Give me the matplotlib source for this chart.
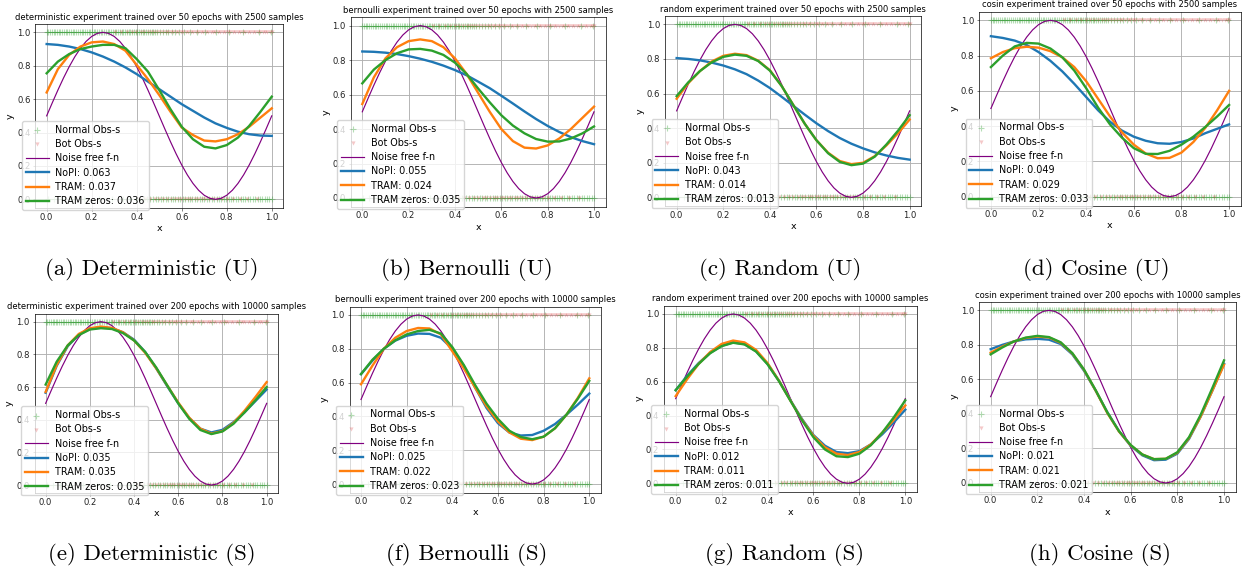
import matplotlib
matplotlib.use("Agg")
import matplotlib.pyplot as plt
import matplotlib.transforms as mtransforms

# ---------------- data ----------------
x_grid = [0.00, 0.05, 0.10, 0.15, 0.20, 0.25, 0.30, 0.35, 0.40, 0.45, 0.50,
          0.55, 0.60, 0.65, 0.70, 0.75, 0.80, 0.85, 0.90, 0.95, 1.00]

x_fine = [0.000, 0.025, 0.050, 0.075, 0.100, 0.125, 0.150, 0.175, 0.200, 0.225, 0.250,
          0.275, 0.300, 0.325, 0.350, 0.375, 0.400, 0.425, 0.450, 0.475, 0.500,
          0.525, 0.550, 0.575, 0.600, 0.625, 0.650, 0.675, 0.700, 0.725, 0.750,
          0.775, 0.800, 0.825, 0.850, 0.875, 0.900, 0.925, 0.950, 0.975, 1.000]
noise_free = [0.5, 0.5782, 0.6545, 0.7270, 0.7939, 0.8536, 0.9045, 0.9455, 0.9755, 0.9938, 1.0,
              0.9938, 0.9755, 0.9455, 0.9045, 0.8536, 0.7939, 0.7270, 0.6545, 0.5782, 0.5,
              0.4218, 0.3455, 0.2730, 0.2061, 0.1464, 0.0955, 0.0545, 0.0245, 0.0062, 0.0,
              0.0062, 0.0245, 0.0545, 0.0955, 0.1464, 0.2061, 0.2730, 0.3455, 0.4218, 0.5]

titles = [
    "deterministic experiment trained over 50 epochs with 2500 samples",
    "bernoulli experiment trained over 50 epochs with 2500 samples",
    "random experiment trained over 50 epochs with 2500 samples",
    "cosin experiment trained over 50 epochs with 2500 samples",
    "deterministic experiment trained over 200 epochs with 10000 samples",
    "bernoulli experiment trained over 200 epochs with 10000 samples",
    "random experiment trained over 200 epochs with 10000 samples",
    "cosin experiment trained over 200 epochs with 10000 samples",
]

captions = ["(a) Deterministic (U)", "(b) Bernoulli (U)", "(c) Random (U)", "(d) Cosine (U)",
            "(e) Deterministic (S)", "(f) Bernoulli (S)", "(g) Random (S)", "(h) Cosine (S)"]

nopi_scores = [0.063, 0.055, 0.043, 0.049, 0.035, 0.025, 0.012, 0.021]
tram_scores = [0.037, 0.024, 0.014, 0.029, 0.035, 0.022, 0.011, 0.021]
tramz_scores = [0.036, 0.035, 0.013, 0.033, 0.035, 0.023, 0.011, 0.021]

nopi_a = [0.93, 0.925, 0.915, 0.90, 0.88, 0.855, 0.825, 0.79, 0.75, 0.705, 0.66,
          0.615, 0.57, 0.53, 0.49, 0.455, 0.428, 0.405, 0.39, 0.382, 0.38]
tram_a = [0.64, 0.78, 0.865, 0.915, 0.94, 0.945, 0.93, 0.89, 0.805, 0.72, 0.625,
          0.525, 0.43, 0.385, 0.352, 0.347, 0.36, 0.39, 0.435, 0.49, 0.545]
tramz_a = [0.755, 0.825, 0.87, 0.90, 0.915, 0.925, 0.925, 0.905, 0.84, 0.765, 0.655,
           0.54, 0.435, 0.36, 0.315, 0.305, 0.325, 0.37, 0.44, 0.525, 0.615]

nopi_b = [0.85, 0.848, 0.843, 0.835, 0.823, 0.808, 0.79, 0.768, 0.742, 0.712, 0.675,
          0.637, 0.593, 0.548, 0.502, 0.458, 0.418, 0.383, 0.353, 0.33, 0.312]
tram_b = [0.545, 0.70, 0.81, 0.875, 0.91, 0.92, 0.91, 0.875, 0.81, 0.72, 0.61,
          0.50, 0.40, 0.33, 0.292, 0.287, 0.305, 0.345, 0.40, 0.465, 0.53]
tramz_b = [0.665, 0.745, 0.80, 0.84, 0.862, 0.865, 0.855, 0.83, 0.785, 0.72, 0.635,
           0.555, 0.48, 0.42, 0.375, 0.342, 0.327, 0.328, 0.345, 0.375, 0.415]

nopi_c = [0.805, 0.80, 0.792, 0.779, 0.762, 0.74, 0.712, 0.675, 0.632, 0.582, 0.53,
          0.478, 0.428, 0.383, 0.343, 0.31, 0.283, 0.26, 0.242, 0.228, 0.218]
tram_c = [0.57, 0.66, 0.73, 0.785, 0.818, 0.83, 0.822, 0.79, 0.735, 0.645, 0.535,
          0.425, 0.33, 0.258, 0.21, 0.192, 0.20, 0.238, 0.30, 0.37, 0.45]
tramz_c = [0.585, 0.665, 0.73, 0.78, 0.812, 0.825, 0.818, 0.788, 0.733, 0.645, 0.535,
           0.425, 0.33, 0.255, 0.205, 0.186, 0.195, 0.235, 0.305, 0.385, 0.475]

nopi_d = [0.91, 0.90, 0.885, 0.86, 0.82, 0.77, 0.71, 0.64, 0.565, 0.49, 0.425,
          0.375, 0.34, 0.317, 0.303, 0.30, 0.31, 0.33, 0.36, 0.385, 0.41]
tram_d = [0.785, 0.82, 0.842, 0.85, 0.845, 0.825, 0.79, 0.735, 0.655, 0.555, 0.455,
          0.365, 0.295, 0.245, 0.218, 0.22, 0.25, 0.31, 0.39, 0.49, 0.60]
tramz_d = [0.735, 0.80, 0.852, 0.872, 0.868, 0.84, 0.79, 0.715, 0.615, 0.505, 0.41,
           0.335, 0.275, 0.243, 0.242, 0.26, 0.295, 0.34, 0.395, 0.455, 0.52]

nopi_e = [0.565, 0.73, 0.85, 0.92, 0.955, 0.965, 0.96, 0.935, 0.89, 0.815, 0.715,
          0.605, 0.50, 0.41, 0.345, 0.322, 0.338, 0.385, 0.445, 0.515, 0.585]
tram_e = [0.57, 0.735, 0.855, 0.925, 0.96, 0.97, 0.962, 0.935, 0.885, 0.81, 0.715,
          0.61, 0.505, 0.412, 0.345, 0.315, 0.33, 0.38, 0.455, 0.54, 0.63]
tramz_e = [0.615, 0.755, 0.855, 0.918, 0.952, 0.96, 0.955, 0.93, 0.885, 0.815, 0.72,
           0.61, 0.50, 0.405, 0.337, 0.312, 0.328, 0.375, 0.445, 0.52, 0.60]

nopi_f = [0.65, 0.73, 0.80, 0.848, 0.877, 0.89, 0.888, 0.865, 0.80, 0.70, 0.57,
          0.45, 0.36, 0.305, 0.287, 0.29, 0.315, 0.355, 0.41, 0.47, 0.535]
tram_f = [0.59, 0.70, 0.80, 0.865, 0.905, 0.923, 0.92, 0.885, 0.785, 0.685, 0.57,
          0.46, 0.37, 0.305, 0.268, 0.26, 0.28, 0.33, 0.41, 0.51, 0.625]
tramz_f = [0.65, 0.735, 0.80, 0.85, 0.885, 0.905, 0.912, 0.89, 0.81, 0.705, 0.585,
           0.475, 0.385, 0.315, 0.278, 0.265, 0.28, 0.33, 0.41, 0.505, 0.61]

nopi_g = [0.55, 0.635, 0.71, 0.77, 0.812, 0.832, 0.822, 0.78, 0.705, 0.605, 0.49,
          0.38, 0.285, 0.222, 0.185, 0.178, 0.19, 0.23, 0.29, 0.36, 0.435]
tram_g = [0.515, 0.615, 0.705, 0.775, 0.823, 0.843, 0.832, 0.788, 0.71, 0.605, 0.488,
          0.375, 0.28, 0.213, 0.175, 0.167, 0.185, 0.23, 0.30, 0.375, 0.46]
tramz_g = [0.55, 0.63, 0.705, 0.768, 0.81, 0.83, 0.82, 0.778, 0.703, 0.603, 0.487,
           0.372, 0.272, 0.20, 0.16, 0.155, 0.175, 0.225, 0.30, 0.39, 0.49]

nopi_h = [0.775, 0.80, 0.82, 0.832, 0.835, 0.83, 0.805, 0.745, 0.65, 0.535, 0.41,
          0.30, 0.215, 0.16, 0.132, 0.135, 0.17, 0.255, 0.385, 0.535, 0.69]
tram_h = [0.755, 0.79, 0.82, 0.84, 0.848, 0.843, 0.812, 0.75, 0.655, 0.535, 0.405,
          0.298, 0.218, 0.165, 0.138, 0.14, 0.175, 0.26, 0.385, 0.535, 0.685]
tramz_h = [0.745, 0.785, 0.82, 0.842, 0.852, 0.845, 0.815, 0.752, 0.657, 0.537, 0.408,
           0.30, 0.22, 0.165, 0.138, 0.14, 0.178, 0.265, 0.395, 0.55, 0.71]

nopi_all = [nopi_a, nopi_b, nopi_c, nopi_d, nopi_e, nopi_f, nopi_g, nopi_h]
tram_all = [tram_a, tram_b, tram_c, tram_d, tram_e, tram_f, tram_g, tram_h]
tramz_all = [tramz_a, tramz_b, tramz_c, tramz_d, tramz_e, tramz_f, tramz_g, tramz_h]

# observation positions (label 1 / label 0)
normal_hi_x = [0.000, 0.008, 0.015, 0.022, 0.031, 0.038, 0.046, 0.053, 0.061, 0.069, 0.077,
               0.084, 0.092, 0.101, 0.108, 0.116, 0.123, 0.131, 0.139, 0.147, 0.155, 0.162,
               0.170, 0.178, 0.186, 0.193, 0.201, 0.209, 0.217, 0.224, 0.232, 0.240, 0.248,
               0.256, 0.263, 0.271, 0.279, 0.287, 0.294, 0.302, 0.310, 0.318, 0.326, 0.333,
               0.341, 0.349, 0.357, 0.364, 0.372, 0.380, 0.388, 0.396, 0.403, 0.411, 0.419,
               0.427, 0.434, 0.442, 0.450, 0.458, 0.466, 0.474, 0.483, 0.492, 0.503, 0.515,
               0.528, 0.541, 0.556, 0.572, 0.590, 0.611, 0.636, 0.667, 0.705, 0.752, 0.808,
               0.873, 0.944, 0.995]
bot_hi_x = [0.305, 0.331, 0.356, 0.378, 0.398, 0.417, 0.434, 0.450, 0.465, 0.479, 0.492,
            0.505, 0.517, 0.529, 0.541, 0.552, 0.563, 0.574, 0.585, 0.596, 0.607, 0.618,
            0.629, 0.640, 0.651, 0.662, 0.673, 0.684, 0.695, 0.706, 0.717, 0.728, 0.739,
            0.750, 0.761, 0.772, 0.783, 0.794, 0.805, 0.816, 0.827, 0.838, 0.849, 0.860,
            0.871, 0.882, 0.893, 0.904, 0.915, 0.926, 0.937, 0.948, 0.959, 0.970, 0.981,
            0.992, 1.000]
normal_lo_x = [0.004, 0.031, 0.067, 0.112, 0.168, 0.231, 0.292, 0.338, 0.372, 0.396, 0.415,
               0.431, 0.446, 0.459, 0.472, 0.484, 0.496, 0.507, 0.518, 0.529, 0.540, 0.551,
               0.562, 0.572, 0.583, 0.594, 0.605, 0.615, 0.626, 0.637, 0.647, 0.658, 0.669,
               0.680, 0.690, 0.701, 0.712, 0.722, 0.733, 0.744, 0.755, 0.765, 0.776, 0.787,
               0.797, 0.808, 0.819, 0.830, 0.840, 0.851, 0.862, 0.872, 0.883, 0.894, 0.905,
               0.915, 0.926, 0.937, 0.947, 0.958, 0.969, 0.980, 0.990, 1.000]
bot_lo_x = [0.412, 0.438, 0.461, 0.482, 0.501, 0.519, 0.536, 0.552, 0.568, 0.583, 0.598,
            0.613, 0.628, 0.643, 0.658, 0.673, 0.689, 0.705, 0.722, 0.740, 0.759, 0.780,
            0.803, 0.829, 0.858, 0.892, 0.935]

# ---------------- layout (pixels) ----------------
W, H = 1250, 571
axes_px = [  # left, right, top, bottom
    (35.4, 283.0, 24.0, 207.7),
    (350.7, 605.6, 17.0, 206.6),
    (665.0, 921.3, 15.7, 206.0),
    (979.0, 1241.0, 11.5, 205.5),
    (34.6, 277.7, 313.5, 493.2),
    (349.6, 600.7, 306.5, 492.5),
    (664.2, 916.8, 305.5, 491.8),
    (979.0, 1235.7, 301.7, 491.6),
]
caption_pos = [(152, 270), (467, 270), (780, 270), (1096, 270),
               (152, 555), (467, 555), (785, 555), (1100, 555)]

fig = plt.figure(figsize=(W / 100, H / 100), dpi=100)
fig.patch.set_facecolor("white")

for i in range(8):
    l, r, t, b = axes_px[i]
    ax = fig.add_axes([l / W, 1 - b / H, (r - l) / W, (b - t) / H])
    ax.scatter(normal_hi_x + normal_lo_x, [1.0] * len(normal_hi_x) + [0.0] * len(normal_lo_x),
               marker="+", s=14, color="#2ca02c", alpha=0.35, linewidths=0.8,
               label="Normal Obs-s", zorder=2)
    ax.scatter(bot_hi_x + bot_lo_x, [1.0] * len(bot_hi_x) + [0.0] * len(bot_lo_x),
               marker="v", s=9, color="#d62728", alpha=0.25, linewidths=0,
               label="Bot Obs-s", zorder=2)
    ax.plot(x_fine, noise_free, color="purple", lw=0.85, label="Noise free f-n", zorder=3)
    ax.plot(x_grid, nopi_all[i], color="#1f77b4", lw=1.7,
            label=f"NoPI: {nopi_scores[i]:.3f}", zorder=3)
    ax.plot(x_grid, tram_all[i], color="#ff7f0e", lw=1.7,
            label=f"TRAM: {tram_scores[i]:.3f}", zorder=3)
    ax.plot(x_grid, tramz_all[i], color="#2ca02c", lw=1.7,
            label=f"TRAM zeros: {tramz_scores[i]:.3f}", zorder=3)

    ax.set_xlim(-0.05, 1.05)
    ax.set_ylim(-0.05, 1.05)
    ax.set_xticks([0.0, 0.2, 0.4, 0.6, 0.8, 1.0])
    ax.set_yticks([0.0, 0.2, 0.4, 0.6, 0.8, 1.0])
    ax.tick_params(labelsize=6.1, length=1.8, width=0.4, pad=1.7, colors="#222222")
    ax.grid(True, color="#b0b0b0", lw=0.65)
    ax.set_axisbelow(True)
    for sp in ax.spines.values():
        sp.set_linewidth(0.5)
    ax.set_xlabel("x", fontsize=6.8, labelpad=1.5)
    ax.set_ylabel("y", fontsize=6.8, labelpad=1.5)
    ax.set_title(titles[i], fontsize=6.05, pad=3)

    tr = mtransforms.offset_copy(ax.transAxes, fig=fig, x=-13.5, y=-2.3, units="dots")
    ax.legend(loc="lower left", bbox_to_anchor=(0, 0), bbox_transform=tr, borderaxespad=0,
              fontsize=6.9, handlelength=2.4, handletextpad=0.7, labelspacing=0.45,
              borderpad=0.4, framealpha=0.8)

    cx, cy = caption_pos[i]
    fig.text(cx / W, 1 - cy / H, captions[i], family="cmr10", fontsize=16.5,
             ha="center", va="center")

fig.savefig("out.png", dpi=100)
